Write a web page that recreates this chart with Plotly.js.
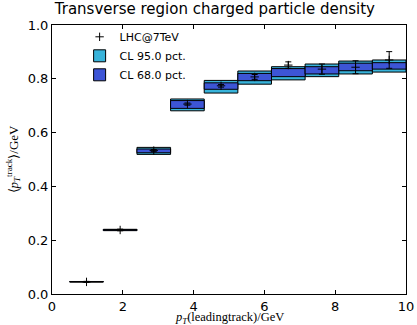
<!DOCTYPE html>
<html>
<head>
<meta charset="utf-8">
<script src="https://cdn.plot.ly/plotly-3.0.1.min.js"></script>
<style>html,body{margin:0;padding:0;background:#fff;}#plot{width:417px;height:325px;}</style>
</head>
<body>
<div id="plot"></div>
<script>
// Bin edges (p_T of leading track, GeV)
const binLo = [0.5, 1.45, 2.4, 3.35, 4.3, 5.25, 6.2, 7.15, 8.1, 9.05];
const binHi = [1.45, 2.4, 3.35, 4.3, 5.25, 6.2, 7.15, 8.1, 9.05, 10.0];
// LHC@7TeV data
const dataY   = [0.045, 0.238, 0.533, 0.706, 0.774, 0.807, 0.851, 0.836, 0.843, 0.870];
const dataErr = [0.002, 0.003, 0.004, 0.004, 0.005, 0.009, 0.012, 0.019, 0.024, 0.031];
// CL 95% envelope
const cl95Lo = [0.0445, 0.2355, 0.519, 0.681, 0.747, 0.780, 0.796, 0.808, 0.818, 0.825];
const cl95Hi = [0.0465, 0.2405, 0.545, 0.725, 0.794, 0.829, 0.845, 0.855, 0.866, 0.870];
// CL 68% envelope
const cl68Lo = [0.0450, 0.2365, 0.525, 0.690, 0.761, 0.793, 0.808, 0.818, 0.830, 0.836];
const cl68Hi = [0.0460, 0.2395, 0.539, 0.719, 0.785, 0.820, 0.838, 0.845, 0.858, 0.860];

const centers = binLo.map((lo, i) => (lo + binHi[i]) / 2);
const widths = binLo.map((lo, i) => binHi[i] - lo);

const traces = [
  {
    type: 'bar', name: 'CL 95.0 pct.', legendrank: 2,
    x: centers, width: widths,
    base: cl95Lo, y: cl95Hi.map((h, i) => h - cl95Lo[i]),
    marker: {color: '#38b3da', line: {color: '#000', width: 1}},
    hoverinfo: 'skip'
  },
  {
    type: 'bar', name: 'CL 68.0 pct.', legendrank: 3,
    x: centers, width: widths,
    base: cl68Lo, y: cl68Hi.map((h, i) => h - cl68Lo[i]),
    marker: {color: '#3d55d6', line: {color: '#000', width: 1}},
    hoverinfo: 'skip'
  },
  {
    type: 'scatter', mode: 'markers', name: 'LHC@7TeV', legendrank: 1,
    x: centers, y: dataY,
    marker: {symbol: 'cross-thin-open', size: 6, color: '#000', line: {color: '#000', width: 1}},
    error_y: {type: 'data', array: dataErr, visible: true, color: '#000', thickness: 1, width: 3},
    hoverinfo: 'skip'
  }
];

const axisFont = {family: 'DejaVu Sans, sans-serif', size: 13, color: '#000'};
const layout = {
  width: 417, height: 325,
  margin: {l: 52, r: 11, t: 25, b: 31},
  paper_bgcolor: '#fff', plot_bgcolor: '#fff',
  barmode: 'overlay',
  showlegend: true,
  title: {
    text: 'Transverse region charged particle density',
    font: {family: 'DejaVu Sans, sans-serif', size: 15, color: '#000'},
    x: 0.46, xanchor: 'center', xref: 'paper',
    yref: 'container', y: 0.99, yanchor: 'top'
  },
  legend: {
    x: 0.078, y: 1.01, xanchor: 'left', yanchor: 'top',
    bgcolor: 'rgba(0,0,0,0)', borderwidth: 0,
    font: {family: 'DejaVu Sans, sans-serif', size: 11, color: '#000'},
    traceorder: 'normal'
  },
  xaxis: {
    range: [0, 10], dtick: 2, tick0: 0,
    ticks: 'inside', ticklen: 4, tickcolor: '#000', mirror: 'ticks',
    showline: true, linecolor: '#000', linewidth: 1,
    showgrid: false, zeroline: false,
    tickfont: axisFont
  },
  yaxis: {
    range: [0, 1.0], dtick: 0.2, tick0: 0, tickformat: '.1f',
    ticks: 'inside', ticklen: 4, tickcolor: '#000', mirror: 'ticks',
    showline: true, linecolor: '#000', linewidth: 1,
    showgrid: false, zeroline: false,
    tickfont: axisFont,
    title: {
      text: '⟨<i>p</i><sub><i>T</i></sub><sup>track</sup>⟩/GeV',
      font: {family: 'Liberation Serif, serif', size: 13, color: '#000'},
      standoff: 6
    }
  },
  annotations: [{
    text: '<i>p</i><sub><i>T</i></sub>(leadingtrack)/GeV',
    font: {family: 'Liberation Serif, serif', size: 12.5, color: '#000'},
    xref: 'paper', yref: 'paper', x: 0.5, y: -0.09,
    xanchor: 'center', yanchor: 'middle', showarrow: false
  }]
};

Plotly.newPlot('plot', traces, layout, {staticPlot: true, displayModeBar: false});
</script>
</body>
</html>
